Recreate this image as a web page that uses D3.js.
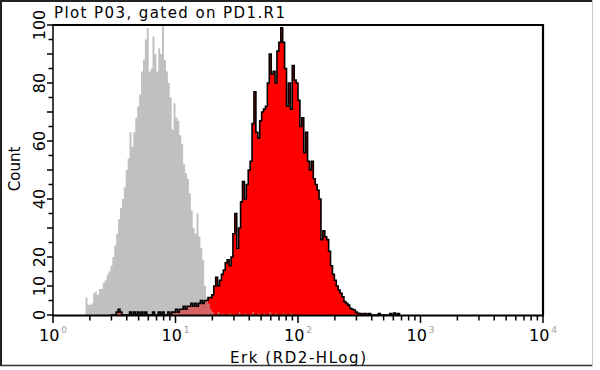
<!DOCTYPE html>
<html><head><meta charset="utf-8">
<script src="https://cdn.jsdelivr.net/npm/d3@7"></script>
<style>body{margin:0;background:#fff}svg{display:block}</style>
</head><body>
<script>
// ---- data ----
const titleText = "Plot P03, gated on PD1.R1";
const xLabelText = "Erk (RD2-HLog)";
const yLabelText = "Count";
const yTickLabels = [0, 10, 20, 40, 60, 80, 100];
const xDecades = [0, 1, 2, 3, 4];
const channelsPerDecade = 64;

// control (gray) histogram: counts per channel starting at grayStart
const grayStart = 17;
const grayCounts = [6,3.5,3.5,4,7.5,8,7,9,9,11,12,14,15,17,20,24,28,33,37,40,44,50,54,63,58,63,68,72,76,84,88,95,99,84,85,96,90,84,92,90,100,88,84,80,75,64,73,68,67,62,59,52,49,47,42,36,30,28,35,27,23,19,10,6,4,2,1,0,0,1,0,0.5,0,0,0,0.5,0,0,0,0,1,0,0,0.5,0,0,0,1,0,0,0.5,0,0,0.5,0,0,1,0,0,0.5,0,0,0,0.5,0,0,0,0.5];

// stained (red) histogram: counts per channel starting at redStart
const redStart = 30;
const redCounts = [0,0,0,1,2,1,0,0,0,0,1,0,1,0,1,0,1,0,1,0,0,0,1,0,0,1,0,1,0,0,1,0,1,1,2,1,2,2,3,2,3,3,4,3,4,3,4,5,4,5,5,6,6,7,10,13,10,12,14,15.5,18,19,17,20,28,35,23,30,39,46,40,45,50,53,66,77,63,61,67,70,71,72,80,90,83,84,80,91,94,99,94,85,72,80,71,86,81,80,74,65,68,56,63,53,50,53,47,45,43,40,26,29,27,26,22,17,14,12,10,8.6,7.5,6.3,4.6,4,3.4,2.3,2,1.7,1,0.6,0.5,0,0.5,0.5,0,0.5,0,0,0,0,0.5,0,0,0,0,0,0.5,0,0.7,0,0.5];

// ---- layout ----
const W = 600, H = 370;
const svg = d3.select("body").append("svg").attr("width", W).attr("height", H);

const x = d3.scaleLog().domain([1, 1e4]).range([53, 543]);
const y = d3.scaleLinear().domain([0, 100]).range([315, 25]);
const chanVal = i => Math.pow(10, i / channelsPerDecade);

function bins(start, counts) {
  const arr = counts.map((v, k) => ({lo: chanVal(start + k), v}));
  arr.push({lo: chanVal(start + counts.length), v: 0});
  return arr;
}
const grayBins = bins(grayStart, grayCounts);
const redBins = bins(redStart, redCounts);

const area = d3.area().x(d => x(d.lo)).y0(y(0)).y1(d => y(d.v)).curve(d3.curveStepAfter);
const line = d3.line().x(d => x(d.lo)).y(d => y(d.v)).curve(d3.curveStepAfter);

// outer border
svg.append("line").attr("x1", 1).attr("x2", 1).attr("y1", 0).attr("y2", 366).attr("stroke", "#222").attr("stroke-width", 2);
svg.append("line").attr("x1", 0).attr("x2", 593).attr("y1", 1).attr("y2", 1).attr("stroke", "#222").attr("stroke-width", 2);
svg.append("line").attr("x1", 0).attr("x2", 593).attr("y1", 365.5).attr("y2", 365.5).attr("stroke", "#333").attr("stroke-width", 1.5);
svg.append("line").attr("x1", 592.5).attr("x2", 592.5).attr("y1", 0).attr("y2", 366).attr("stroke", "#c8c8c8").attr("stroke-width", 1);

const defs = svg.append("defs");
defs.append("clipPath").attr("id", "redclip").append("path").attr("d", area(redBins));

// histograms
svg.append("path").attr("d", area(grayBins)).attr("fill", "#c0c0c0");
svg.append("path").attr("d", area(redBins)).attr("fill", "#ff0000");
svg.append("path").attr("d", area(grayBins)).attr("fill", "#b4b4b4").attr("fill-opacity", 0.55).attr("clip-path", "url(#redclip)");
svg.append("path").attr("d", line(redBins)).attr("fill", "none").attr("stroke", "#000").attr("stroke-width", 1.6);

// frame
svg.append("line").attr("x1", 53).attr("x2", 544).attr("y1", 25).attr("y2", 25).attr("stroke", "#000").attr("stroke-width", 2.2);
svg.append("line").attr("x1", 543).attr("x2", 543).attr("y1", 24).attr("y2", 316).attr("stroke", "#000").attr("stroke-width", 2.2);
svg.append("line").attr("x1", 53).attr("x2", 53).attr("y1", 24).attr("y2", 316).attr("stroke", "#000").attr("stroke-width", 1.5);
svg.append("line").attr("x1", 52).attr("x2", 544).attr("y1", 315.5).attr("y2", 315.5).attr("stroke", "#000").attr("stroke-width", 2);

// x axis ticks (log)
const xTicks = [];
for (let d = 0; d < 4; d++) for (let m = 1; m <= 9; m++) xTicks.push({v: m * Math.pow(10, d), major: m === 1});
xTicks.push({v: 1e4, major: true});
svg.append("g").selectAll("line").data(xTicks).join("line")
  .attr("x1", d => x(d.v)).attr("x2", d => x(d.v))
  .attr("y1", 316).attr("y2", d => d.major ? 323 : 320.5)
  .attr("stroke", "#000").attr("stroke-width", 1.5);

const xl = svg.append("g").style("font-family", "DejaVu Sans").selectAll("text").data(xDecades).join("text")
  .attr("x", d => x(Math.pow(10, d)) - 14).attr("y", 341).attr("font-size", 16).attr("fill", "#000");
xl.append("tspan").text("10");
xl.append("tspan").attr("dy", -8).attr("dx", 2).attr("font-size", 9).attr("fill", "#a0a0a0").text(d => d);

// y axis ticks
const yTicks = d3.range(0, 101, 5);
svg.append("g").selectAll("line").data(yTicks).join("line")
  .attr("x1", d => d % 10 === 0 ? 47 : 48.5).attr("x2", 53)
  .attr("y1", d => y(d)).attr("y2", d => y(d))
  .attr("stroke", "#000").attr("stroke-width", 1.5);
svg.append("g").style("font-family", "DejaVu Sans").selectAll("text").data(yTickLabels).join("text")
  .attr("transform", d => `translate(45,${y(d)}) rotate(-90)`)
  .attr("text-anchor", "middle").attr("font-size", 16).attr("fill", "#000").text(d => d);

// titles
svg.append("text").attr("x", 54).attr("y", 18).attr("font-family", "DejaVu Sans").attr("font-size", 15)
  .attr("textLength", 231).attr("lengthAdjust", "spacing").text(titleText);
svg.append("text").attr("x", 298).attr("y", 363).attr("text-anchor", "middle").attr("font-family", "DejaVu Sans").attr("font-size", 15)
  .attr("textLength", 136).attr("lengthAdjust", "spacing").text(xLabelText);
svg.append("text").attr("transform", "translate(20,169) rotate(-90)").attr("text-anchor", "middle")
  .attr("font-family", "DejaVu Sans").attr("font-size", 15).text(yLabelText);
</script>
</body></html>
